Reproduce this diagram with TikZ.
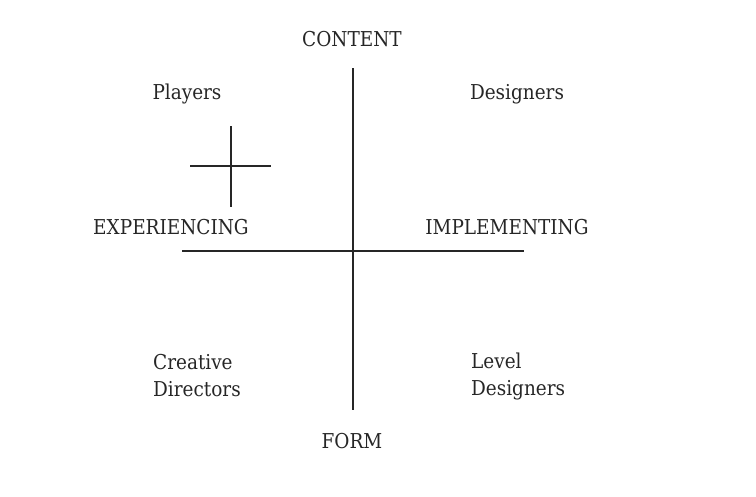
\documentclass[tikz,border=0pt]{standalone}
\usepackage{fontspec}
\setmainfont{DejaVu Serif Condensed}
\begin{document}
\begin{tikzpicture}[x=1pt,y=-1pt,
  lbl/.style={inner sep=0pt,font=\fontsize{20.5}{27}\selectfont,text=black!85},
  axis/.style={line width=1.8pt,draw=black!85},
  crossline/.style={line width=2.2pt,draw=black!85}]
\useasboundingbox (0,0) rectangle (756,496);
\coordinate (vtop) at (353,68);
\coordinate (vbot) at (353,410);
\coordinate (hl) at (182,251);
\coordinate (hr) at (524,251);
\coordinate (ct) at (231,126);
\coordinate (cb) at (231,207);
\coordinate (cl) at (190,166);
\coordinate (cr) at (271,166);
\draw[axis] (vtop) -- (vbot);
\draw[axis] (hl) -- (hr);
\draw[crossline] (ct) -- (cb);
\draw[crossline] (cl) -- (cr);
\node[lbl] (content) at (352,39) {CONTENT};
\node[lbl] (form) at (352,441) {FORM};
\node[lbl] (exp) at (171,227) {EXPERIENCING};
\node[lbl] (imp) at (507,227) {IMPLEMENTING};
\node[lbl] (players) at (187,94) {Players};
\node[lbl] (designers) at (517,94) {Designers};
\node[lbl,anchor=west,align=left] (creative) at (153,376) {Creative\\Directors};
\node[lbl,anchor=west,align=left] (level) at (471,376) {Level\\Designers};
\end{tikzpicture}
\end{document}
